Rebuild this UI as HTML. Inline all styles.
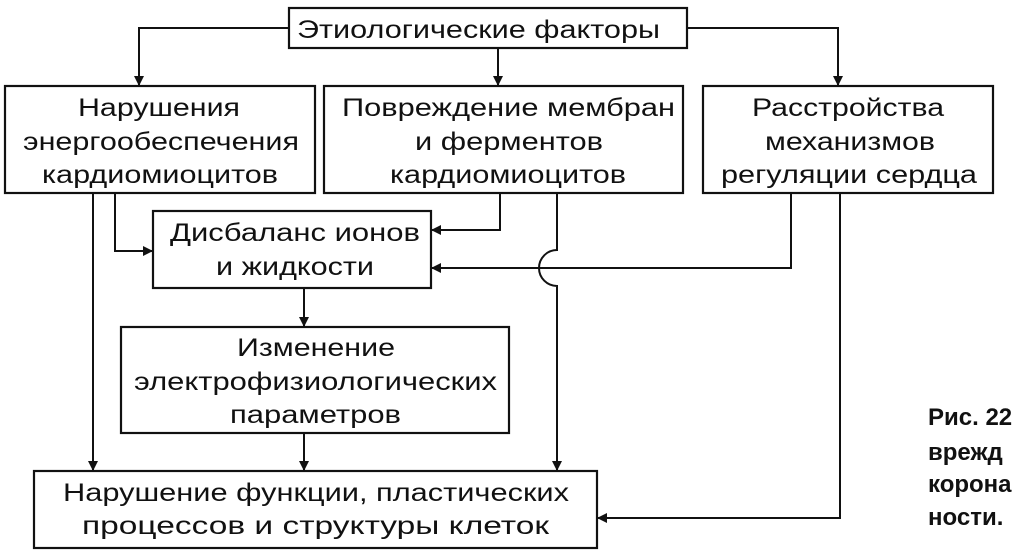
<!DOCTYPE html>
<html><head><meta charset="utf-8"><style>
html,body{margin:0;padding:0;background:#fff;overflow:hidden}
svg{display:block}
text{font-family:"Liberation Sans",sans-serif;font-size:25px;fill:#111}
.b{font-weight:bold;font-size:24px}
</style></head><body>
<svg width="1023" height="555" viewBox="0 0 1023 555" xmlns="http://www.w3.org/2000/svg">
<defs><marker id="a" markerWidth="10" markerHeight="10" refX="9" refY="5" orient="auto" markerUnits="userSpaceOnUse"><path d="M0,0 L10,5 L0,10 z" fill="#111"/></marker></defs>
<g fill="none" stroke="#111" stroke-width="2.2">
<rect x="289" y="8" width="398" height="40"/>
<rect x="5" y="86" width="310" height="107"/>
<rect x="324" y="86" width="359" height="107"/>
<rect x="703" y="86" width="290" height="107"/>
<rect x="153" y="211" width="278" height="77"/>
<rect x="121" y="327" width="388" height="106"/>
<rect x="34" y="471" width="563" height="77"/>
</g>
<g fill="none" stroke="#111" stroke-width="2">
<path d="M289,28 H139 V85" marker-end="url(#a)"/>
<path d="M687,28 H838 V85" marker-end="url(#a)"/>
<path d="M498,48 V85" marker-end="url(#a)"/>
<path d="M93,193 V470" marker-end="url(#a)"/>
<path d="M115,193 V251 H152" marker-end="url(#a)"/>
<path d="M500,193 V230 H432" marker-end="url(#a)"/>
<path d="M557,193 V250 A18,18 0 0 0 557,286 V470" marker-end="url(#a)"/>
<path d="M791,193 V268 H432" marker-end="url(#a)"/>
<path d="M840,193 V518 H598" marker-end="url(#a)"/>
<path d="M304,288 V326" marker-end="url(#a)"/>
<path d="M304,433 V470" marker-end="url(#a)"/>
</g>
<text x="297" y="38" textLength="363" lengthAdjust="spacingAndGlyphs">Этиологические факторы</text>
<text x="78" y="116" textLength="162" lengthAdjust="spacingAndGlyphs">Нарушения</text>
<text x="23" y="150" textLength="276" lengthAdjust="spacingAndGlyphs">энергообеспечения</text>
<text x="42" y="183" textLength="236" lengthAdjust="spacingAndGlyphs">кардиомиоцитов</text>
<text x="342" y="116" textLength="333" lengthAdjust="spacingAndGlyphs">Повреждение мембран</text>
<text x="415" y="150" textLength="188" lengthAdjust="spacingAndGlyphs">и ферментов</text>
<text x="390" y="183" textLength="236" lengthAdjust="spacingAndGlyphs">кардиомиоцитов</text>
<text x="752" y="116" textLength="192" lengthAdjust="spacingAndGlyphs">Расстройства</text>
<text x="765" y="150" textLength="170" lengthAdjust="spacingAndGlyphs">механизмов</text>
<text x="721" y="183" textLength="256" lengthAdjust="spacingAndGlyphs">регуляции сердца</text>
<text x="170" y="241" textLength="250" lengthAdjust="spacingAndGlyphs">Дисбаланс ионов</text>
<text x="216" y="275" textLength="158" lengthAdjust="spacingAndGlyphs">и жидкости</text>
<text x="237" y="356" textLength="158" lengthAdjust="spacingAndGlyphs">Изменение</text>
<text x="134" y="390" textLength="363" lengthAdjust="spacingAndGlyphs">электрофизиологических</text>
<text x="230" y="423" textLength="171" lengthAdjust="spacingAndGlyphs">параметров</text>
<text x="63" y="501" textLength="506" lengthAdjust="spacingAndGlyphs">Нарушение функции, пластических</text>
<text x="82" y="534" textLength="467" lengthAdjust="spacingAndGlyphs">процессов и структуры клеток</text>
<text class="b" x="928" y="425">Рис. 22</text>
<text class="b" x="928" y="460">врежд</text>
<text class="b" x="928" y="492">корона</text>
<text class="b" x="928" y="525">ности.</text>
</svg>
</body></html>
